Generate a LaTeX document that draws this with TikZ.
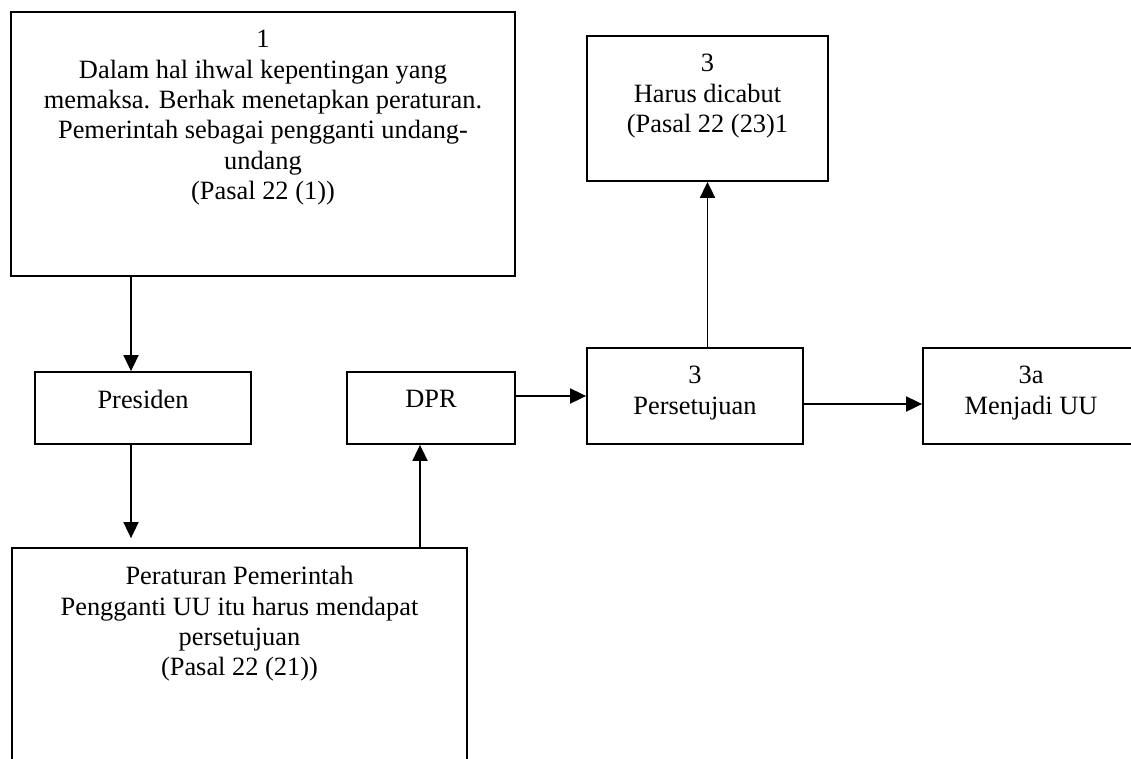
\documentclass[tikz,border=0pt]{standalone}
\usepackage{fontspec}
\setmainfont{Liberation Serif}
\usetikzlibrary{arrows.meta}

\begin{document}
\begin{tikzpicture}[
      x=1pt, y=-1pt,
      >={Triangle[length=16pt,width=15pt]},
      font=\fontsize{26.4}{30.4}\selectfont
    ]

    \tikzstyle{box} = [rectangle, draw=black, line width=1.8pt, inner sep=0pt]

    \tikzstyle{txt} = [anchor=north, align=center, inner sep=0pt, yshift=-19pt]

    \tikzstyle{arrow} = [line width=1.8pt, ->]

    \clip (0,0) rectangle (1131,758);

    \node [box, minimum width=504pt, minimum height=264pt, label={[txt]north:{1\\Dalam hal ihwal kepentingan yang\\memaksa. Berhak menetapkan peraturan.\\Pemerintah sebagai pengganti undang-\\undang\\(Pasal 22 (1))}}] (pasal1) at (263,144) {};
    \node [box, minimum width=241pt, minimum height=145pt, label={[txt]north:{3\\Harus dicabut\\(Pasal 22 (23)1}}] (dicabut) at (707.5,108.5) {};
    \node [box, minimum width=216pt, minimum height=72pt, label={[txt]north:Presiden}] (presiden) at (143,408) {};
    \node [box, minimum width=168pt, minimum height=72pt, label={[txt]north:DPR}] (dpr) at (431,408) {};
    \node [box, minimum width=216pt, minimum height=96pt, label={[txt]north:{3\\Persetujuan}}] (setuju) at (695,396) {};
    \node [box, minimum width=216pt, minimum height=96pt, label={[txt]north:{3a\\Menjadi UU}}] (uu) at (1031,396) {};
    \node [box, minimum width=455pt, minimum height=242pt, label={[txt]north:{Peraturan Pemerintah\\Pengganti UU itu harus mendapat\\persetujuan\\(Pasal 22 (21))}}] (perppu) at (239.5,669) {};

    \draw [arrow] ([xshift=-12pt]presiden.north |- pasal1.south) -- ([xshift=-12pt]presiden.north);
    \draw [arrow, shorten >=9pt] ([xshift=-12pt]presiden.south) -- ([xshift=-12pt]presiden.south |- perppu.north);
    \draw [arrow] ([xshift=-11pt]dpr.south |- perppu.north) -- ([xshift=-11pt]dpr.south);
    \draw [arrow] ([yshift=12pt]dpr.east) -- ([yshift=12pt]dpr.east -| setuju.west);
    \draw [arrow] (dicabut.south |- setuju.north) -- (dicabut.south);
    \draw [arrow] ([yshift=-8pt]setuju.east) -- ([yshift=-8pt]setuju.east -| uu.west);

\end{tikzpicture}
\end{document}
